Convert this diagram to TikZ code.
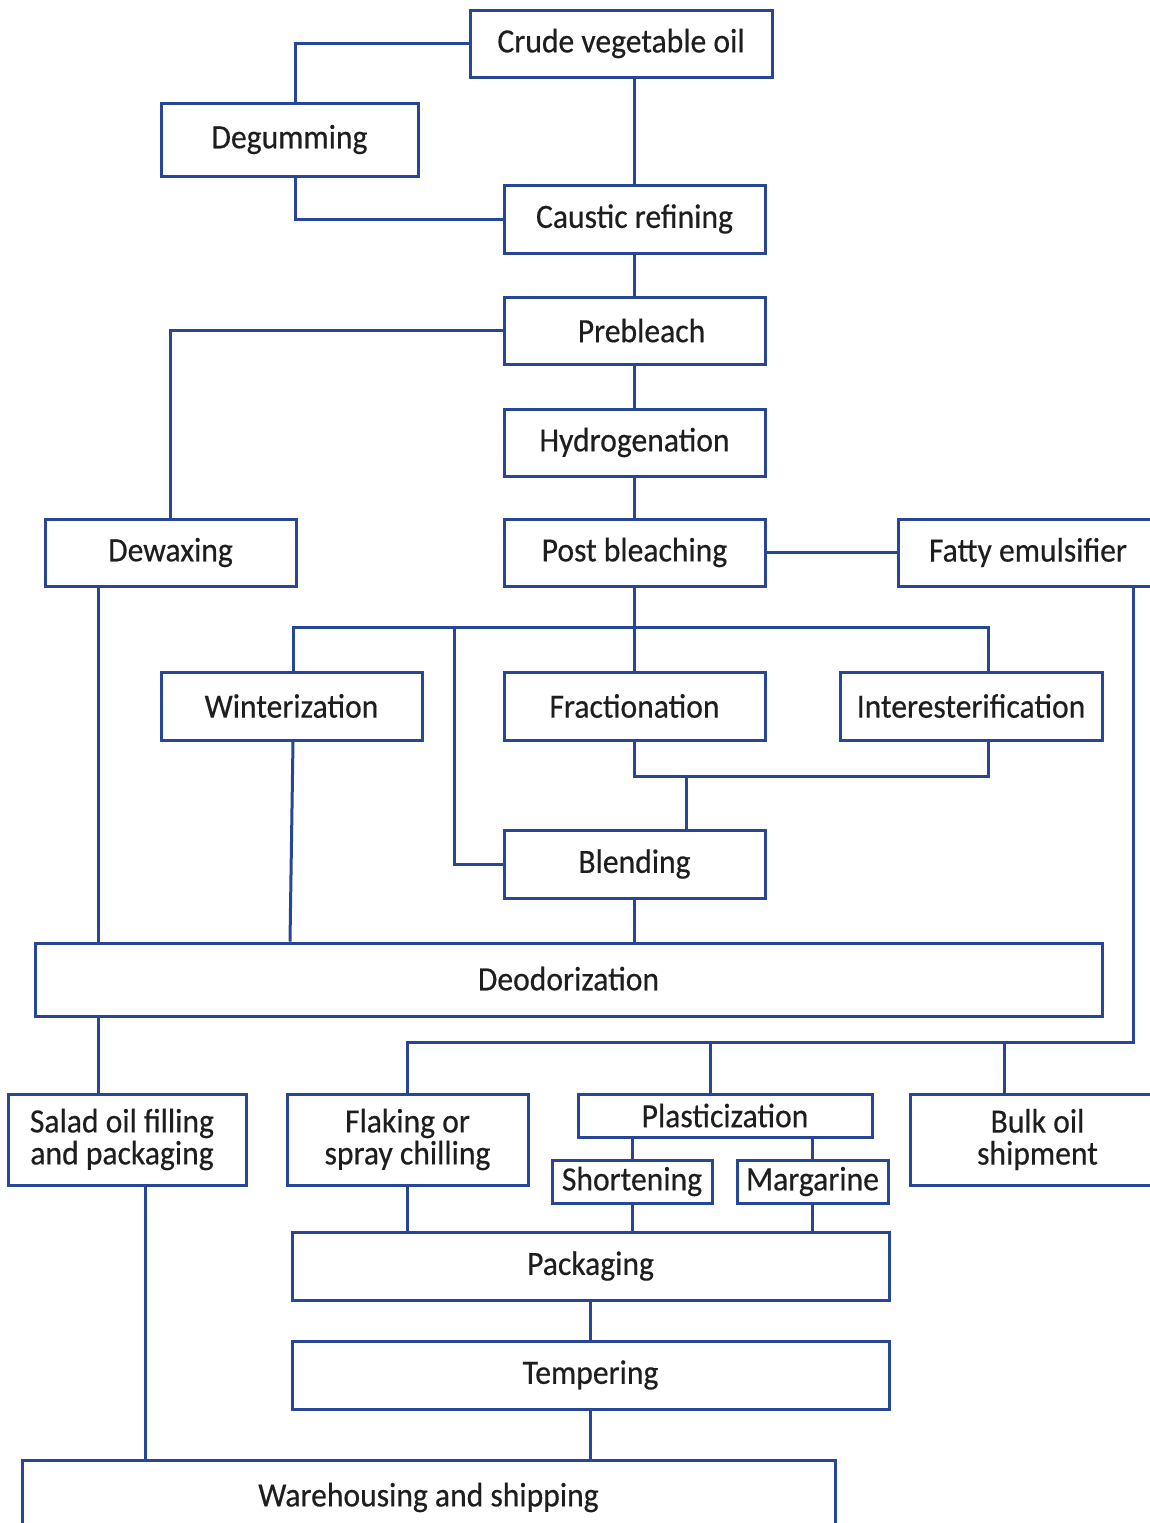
\documentclass[tikz,border=0pt]{standalone}
\usepackage{fontspec}
\setmainfont{Carlito}[FakeStretch=0.93,FakeBold=0.4]
\definecolor{lineblue}{RGB}{40,70,150}
\definecolor{txt}{RGB}{30,30,30}
\begin{document}
\begin{tikzpicture}[x=1pt,y=-1pt,
  bx/.style={draw=lineblue,line width=3pt,rectangle,inner sep=0pt,text=txt,font=\fontsize{34}{32}\selectfont,align=center},
  ln/.style={draw=lineblue,line width=3pt}]
\fill[white] (0,0) rectangle (1150,1523);
\useasboundingbox (0,0) rectangle (1150,1523);
% boxes
\node[bx,minimum width=302pt,minimum height=67pt] (crude) at (621,43.5) {\raisebox{1pt}{Crude vegetable oil}};
\node[bx,minimum width=257pt,minimum height=73pt] (degum) at (289.5,139.5) {\raisebox{2pt}{Degumming}};
\node[bx,minimum width=261pt,minimum height=68pt] (caustic) at (634.5,219) {Caustic refining};
\node[bx,minimum width=261pt,minimum height=67pt] (prebleach) at (634.5,330.5) {\hspace{14pt}Prebleach};
\node[bx,minimum width=261pt,minimum height=67pt] (hydro) at (634.5,442.5) {Hydrogenation};
\node[bx,minimum width=251pt,minimum height=67pt] (dewax) at (170.5,552.5) {Dewaxing};
\node[bx,minimum width=261pt,minimum height=67pt] (post) at (634.5,552.5) {Post bleaching};
\node[bx,minimum width=267pt,minimum height=67pt] (fatty) at (1031.5,552.5) {Fatty emulsifier\hspace{7pt}};
\node[bx,minimum width=261pt,minimum height=68pt] (winter) at (291.5,706) {Winterization};
\node[bx,minimum width=261pt,minimum height=68pt] (fraction) at (634.5,706) {Fractionation};
\node[bx,minimum width=262pt,minimum height=68pt] (inter) at (971,706) {Interesterification};
\node[bx,minimum width=261pt,minimum height=68pt] (blend) at (634.5,864) {Blending};
\node[bx,minimum width=1067pt,minimum height=73pt] (deodor) at (568.5,979.5) {\raisebox{2pt}{Deodorization}};
\node[bx,minimum width=238pt,minimum height=91pt] (salad) at (127,1139.5) {\hspace{-10pt}Salad oil filling\\\hspace{-10pt}and packaging};
\node[bx,minimum width=241pt,minimum height=91pt] (flaking) at (407.5,1139.5) {Flaking or\\spray chilling};
\node[bx,minimum width=294pt,minimum height=43pt] (plastic) at (725,1115.5) {Plasticization};
\node[bx,minimum width=160pt,minimum height=43pt] (short) at (632,1181.5) {Shortening};
\node[bx,minimum width=151pt,minimum height=43pt] (marg) at (812.5,1181.5) {Margarine};
\node[bx,minimum width=255pt,minimum height=91pt] (bulk) at (1037.5,1139.5) {Bulk oil\\shipment\hspace{8pt}};
\node[bx,minimum width=597pt,minimum height=68pt] (pack) at (590.5,1266) {Packaging};
\node[bx,minimum width=597pt,minimum height=68pt] (temper) at (590.5,1375) {Tempering};
\node[bx,minimum width=813pt,minimum height=75pt] (ware) at (428.5,1497.5) {\raisebox{5pt}{Warehousing and shipping}};
% helper coordinates
\coordinate (xdg) at (295,0);
\coordinate (xw) at (98,0);
\coordinate (xwin) at (293,0);
\coordinate (xwin2) at (290,0);
\coordinate (xint) at (988,0);
\coordinate (xbr) at (454,0);
\coordinate (xbl) at (686,0);
\coordinate (xfe) at (1133,0);
\coordinate (xpl) at (710,0);
\coordinate (xbk) at (1004,0);
\coordinate (xsl) at (145,0);
\coordinate (ybus1) at (0,627);
\coordinate (ybus2) at (0,776);
\coordinate (ybus3) at (0,1042);
% connectors
\draw[ln] (crude.west) -| (degum.north -| xdg);
\draw[ln] (caustic.north) -- (caustic.north |- crude.south);
\draw[ln] (degum.south -| xdg) |- (caustic.west);
\draw[ln] (caustic.south) -- (prebleach.north);
\draw[ln] (prebleach.south) -- (hydro.north);
\draw[ln] (hydro.south) -- (post.north);
\draw[ln] (prebleach.west) -| (dewax.north);
\draw[ln] (post.east) -- (fatty.west);
\draw[ln] (post.south) -- (fraction.north);
\draw[ln] (winter.north -| xwin) -- (xwin |- ybus1) -- (xint |- ybus1) -- (inter.north -| xint);
\draw[ln] (xbr |- ybus1) |- (blend.west);
\draw[ln] (fraction.south) |- (xint |- ybus2) -- (inter.south -| xint);
\draw[ln] (xbl |- ybus2) -- (blend.north -| xbl);
\draw[ln] (dewax.south -| xw) -- (deodor.north -| xw);
\draw[ln] (winter.south -| xwin) -- (deodor.north -| xwin2);
\draw[ln] (blend.south) -- (deodor.north -| blend.south);
\draw[ln] (fatty.south -| xfe) -- (xfe |- ybus3) -| (flaking.north);
\draw[ln] (xpl |- ybus3) -- (plastic.north -| xpl);
\draw[ln] (xbk |- ybus3) -- (bulk.north -| xbk);
\draw[ln] (deodor.south -| xw) -- (salad.north -| xw);
\draw[ln] (plastic.south -| short.north) -- (short.north);
\draw[ln] (plastic.south -| marg.north) -- (marg.north);
\draw[ln] (flaking.south) -- (pack.north -| flaking.south);
\draw[ln] (short.south) -- (pack.north -| short.south);
\draw[ln] (marg.south) -- (pack.north -| marg.south);
\draw[ln] (pack.south) -- (temper.north);
\draw[ln] (temper.south) -- (ware.north -| temper.south);
\draw[ln] (salad.south -| xsl) -- (ware.north -| xsl);
\end{tikzpicture}
\end{document}
